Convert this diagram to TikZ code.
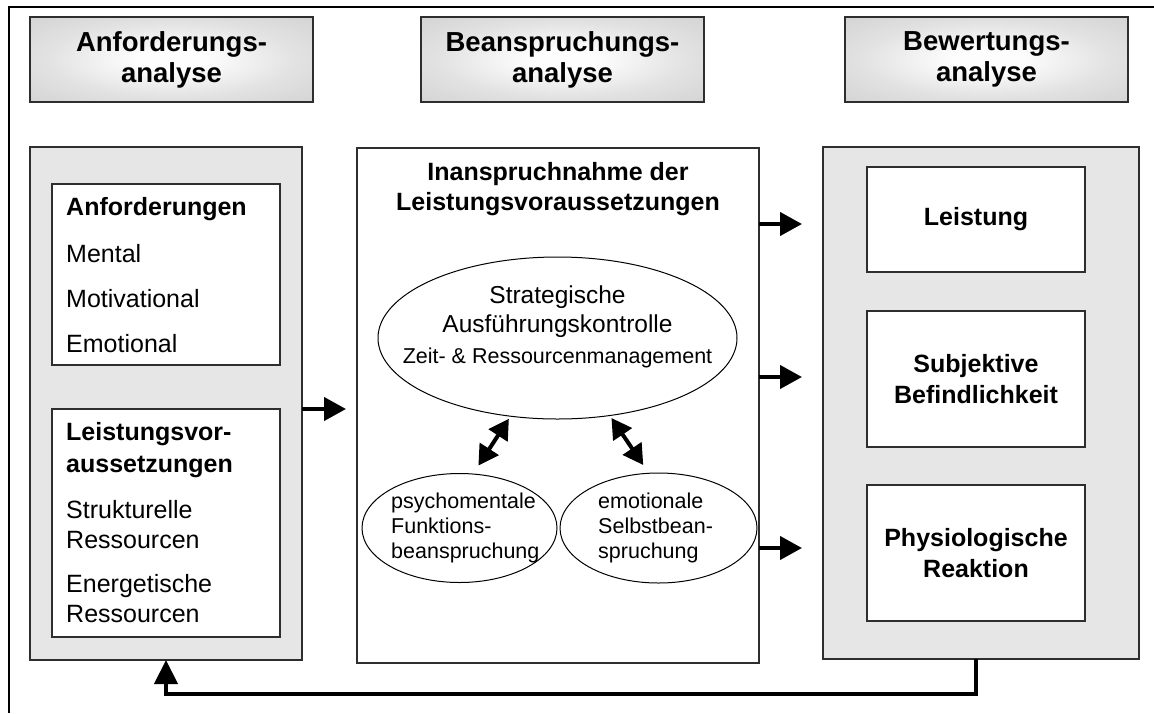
\documentclass[tikz,border=0pt]{standalone}
\usepackage{fontspec}
\setmainfont{Liberation Sans}
\usetikzlibrary{arrows.meta,shapes.geometric,shadows}

\definecolor{panelgray}{HTML}{E6E6E6}
\definecolor{edgegray}{HTML}{2E2E2E}
\definecolor{hdrout}{HTML}{C4C4C4}
\definecolor{hdrmid}{HTML}{E2E2E2}
\definecolor{hdrin}{HTML}{FDFDFD}

% soft glow for the column headers: bright centre fading to grey corners
\pgfdeclareradialshading{hdrglow}{\pgfpoint{0bp}{0bp}}{%
  color(0bp)=(hdrin); color(6bp)=(hdrin); color(22bp)=(hdrmid); color(50bp)=(hdrout)}

\begin{document}
\begin{tikzpicture}[x=1pt,y=-1pt,
  box/.style={draw=edgegray, line width=1.3pt, inner sep=0pt, outer sep=0pt},
  lifted/.style={drop shadow={shadow xshift=1.2pt, shadow yshift=-1.4pt,
    fill=black, opacity=0.45}},
  header/.style={box, lifted, shading=hdrglow,
    minimum width=283pt, minimum height=85pt, align=center,
    font=\fontsize{27.5}{31}\selectfont\bfseries},
  panel/.style={box, lifted, fill=panelgray},
  card/.style={box, lifted, fill=white},
  result/.style={card, minimum width=218pt, align=center,
    font=\fontsize{25}{31}\selectfont\bfseries},
  oval/.style={ellipse, draw=black, line width=1pt, inner sep=0pt, outer sep=0pt},
  item/.style={anchor=base west, inner sep=0pt, font=\fontsize{25}{30}\selectfont},
  itemhead/.style={item, font=\fontsize{25}{30}\selectfont\bfseries},
  midtitle/.style={anchor=base, inner sep=0pt, font=\fontsize{25}{30}\selectfont\bfseries},
  ovaltext/.style={anchor=base, inner sep=0pt, font=\fontsize{24.5}{29}\selectfont},
  ovalsmall/.style={inner sep=0pt, font=\fontsize{21.5}{25}\selectfont},
  flow/.style={line width=4.3pt, -{Triangle[length=22pt,width=23pt]}},
  mutual/.style={line width=4pt,
    {Triangle[length=20pt,width=22pt]}-{Triangle[length=20pt,width=22pt]}},
  feedback/.style={line width=4.3pt, line join=miter, -{Triangle[length=24pt,width=23pt]}}
]
\useasboundingbox (0,0) rectangle (1154,713);

% open frame: left and top edges only
\draw[line width=2pt] (9,713) -- (9,7) -- (1154,7);

% column headers
\node[header] (hA) at (171.5,59.5) {Anforderungs-\\analyse};
\node[header] (hB) at (562.5,59.5) {Beanspruchungs-\\analyse};
\node[header] (hC) at (986.5,59.5) {Bewertungs-\\analyse};

% left column
\node[panel, minimum width=272pt, minimum height=513pt] (lp) at (166,403.5) {};
\node[card, minimum width=228pt, minimum height=181pt] (lb1) at (166,274.5) {};
\node[card, minimum width=228pt, minimum height=228pt] (lb2) at (166,523) {};

\node[itemhead] (t1) at (66,215) {Anforderungen};
\node[item] (t2) at (66,262) {Mental};
\node[item] (t3) at (66,307) {Motivational};
\node[item] (t4) at (66,352) {Emotional};

\node[itemhead] (t5) at (66,440) {Leistungsvor-};
\node[itemhead] (t6) at (66,472) {aussetzungen};
\node[item] (t7) at (66,518) {Strukturelle};
\node[item] (t8) at (66,548) {Ressourcen};
\node[item] (t9) at (66,592) {Energetische};
\node[item] (t10) at (66,622) {Ressourcen};

% middle column
\node[card, minimum width=402pt, minimum height=515pt] (mid) at (558,405.5) {};
\node[midtitle] (m1) at (558,180) {Inanspruchnahme der};
\node[midtitle] (m2) at (558,210) {Leistungsvoraussetzungen};

\node[oval, minimum width=359pt, minimum height=162pt] (big) at (557.5,338) {};
\node[ovaltext] (e1) at (557.5,303) {Strategische};
\node[ovaltext] (e2) at (557.5,332) {Ausführungskontrolle};
\node[ovalsmall, anchor=base] (e3) at (557.5,363) {Zeit- \& Ressourcenmanagement};

\node[oval, minimum width=195pt, minimum height=109pt] (sl) at (459.5,528) {};
\node[oval, minimum width=197pt, minimum height=110pt] (sr) at (658.5,528) {};
\node[ovalsmall, anchor=base west] (p1) at (391,508) {psychomentale};
\node[ovalsmall, anchor=base west] (p2) at (391,533) {Funktions-};
\node[ovalsmall, anchor=base west] (p3) at (391,558) {beanspruchung};
\node[ovalsmall, anchor=base west] (q1) at (598,508) {emotionale};
\node[ovalsmall, anchor=base west] (q2) at (598,533) {Selbstbean-};
\node[ovalsmall, anchor=base west] (q3) at (598,558) {spruchung};

\draw[mutual, shorten <=3pt, shorten >=10pt] (big.239) -- (sl.76);
\draw[mutual, shorten <=3pt, shorten >=10pt] (big.304) -- (sr.100);

% right column
\node[panel, minimum width=316pt, minimum height=512pt] (rp) at (981,403) {};
\node[result, minimum height=105pt] (r1) at (976,219.5) {Leistung};
\node[result, minimum height=136pt] (r2) at (976,379) {Subjektive\\Befindlichkeit};
\node[result, minimum height=136pt] (r3) at (976,553) {Physiologische\\Reaktion};

% flow between the columns
\draw[flow, shorten >=11pt] (lp.east |- 0,409) -- (mid.west |- 0,409);
\draw[flow, shorten >=21pt] (mid.east |- 0,224) -- (rp.west |- 0,224);
\draw[flow, shorten >=21pt] (mid.east |- 0,377) -- (rp.west |- 0,377);
\draw[flow, shorten >=21pt] (mid.east |- 0,548) -- (rp.west |- 0,548);

% feedback loop back to the requirements
\draw[feedback] (r3.south |- rp.south) -- (r3.south |- 0,694) -| (lp.south);
\end{tikzpicture}
\end{document}
